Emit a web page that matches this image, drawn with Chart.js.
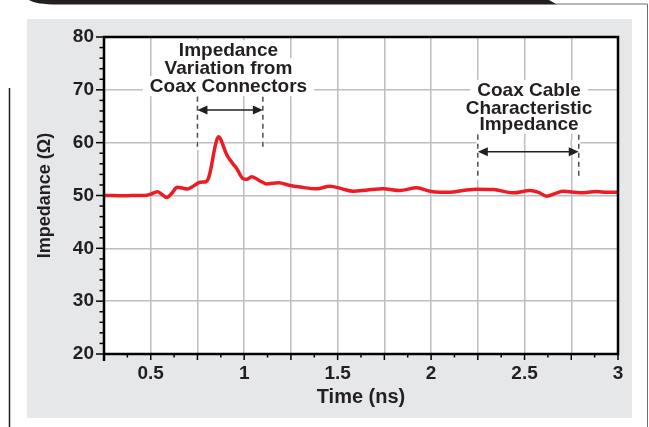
<!DOCTYPE html>
<html>
<head>
<meta charset="utf-8">
<script src="https://cdn.jsdelivr.net/npm/chart.js@4.4.1/dist/chart.umd.min.js"></script>
<style>
  html, body { margin: 0; padding: 0; background: #fff; }
  #wrap { position: relative; width: 649px; height: 427px; overflow: hidden; }
  #panel { position: absolute; left: 27px; top: 19px; width: 605px; height: 399px; background: #e6e7e8; }
  #deco { position: absolute; left: 0; top: 0; }
  #c { position: absolute; left: 0; top: 0; }
</style>
</head>
<body>
<div id="wrap">
  <div id="panel"></div>
  <svg id="deco" width="649" height="427">
    <path d="M29,0 L549,0 L557,4.5 L58,4.5 Q36,4.5 29,0 Z" fill="#231f20"/>
    <polyline points="556,4 647.5,4 647.5,427" fill="none" stroke="#6d6e71" stroke-width="1"/>
    <line x1="9.5" y1="88" x2="9.5" y2="427" stroke="#231f20" stroke-width="1.5"/>
  </svg>
  <canvas id="c" width="649" height="427"></canvas>
</div>
<script>
// TDR trace: time (ns) and measured impedance (ohms)
const timeNs = [0.25, 0.30, 0.35, 0.40, 0.45, 0.48, 0.50, 0.535, 0.56, 0.585,
  0.612, 0.642, 0.67, 0.696, 0.725, 0.755, 0.78, 0.796, 0.808, 0.822,
  0.845, 0.862, 0.876, 0.892, 0.906, 0.925, 0.942, 0.96, 0.992, 1.013,
  1.04, 1.085, 1.12, 1.183, 1.245, 1.30, 1.388, 1.459, 1.52, 1.584,
  1.66, 1.744, 1.834, 1.923, 1.994, 2.048, 2.101, 2.17, 2.244, 2.333,
  2.44, 2.529, 2.575, 2.619, 2.665, 2.707, 2.797, 2.886, 2.94, 3.0];
const impedanceOhm = [50.0, 50.0, 49.95, 50.0, 50.0, 50.05, 50.25, 50.7, 50.2, 49.6,
  50.4, 51.55, 51.4, 51.25, 51.7, 52.4, 52.55, 52.6, 53.2, 55.1,
  59.4, 61.1, 60.5, 59.0, 57.75, 56.7, 55.9, 55.1, 53.25, 53.06,
  53.56, 52.75, 52.2, 52.4, 51.9, 51.6, 51.26, 51.76, 51.3, 50.8,
  51.05, 51.26, 50.95, 51.45, 50.8, 50.63, 50.63, 50.95, 51.2, 51.13,
  50.5, 50.95, 50.6, 49.87, 50.4, 50.8, 50.5, 50.75, 50.6, 50.6];

// axis ticks
const gridTimes = [0.25, 0.5, 0.75, 1, 1.25, 1.5, 1.75, 2, 2.25, 2.5, 2.75, 3];
const xTickLabels = [0.5, 1, 1.5, 2, 2.5, 3];
const yTickValues = [20, 30, 40, 50, 60, 70, 80];

// callout texts
const noteConnectors = ['Impedance', 'Variation from', 'Coax Connectors'];
const noteCable = ['Coax Cable', 'Characteristic', 'Impedance'];

const INK = '#231f20';
const FAMILY = '"Liberation Sans", Arial, Helvetica, sans-serif';
const TICK_FONT = { family: FAMILY, size: 19, weight: 'bold' };
const XTITLE_FONT = { family: FAMILY, size: 20, weight: 'bold' };
const YTITLE_FONT = { family: FAMILY, size: 18, weight: 'bold' };
const NOTE_FONT = 'bold 19px ' + FAMILY;
const GRID = '#bcbec0';

// callouts placed in data units (ns, ohms)
const callouts = [
  { lines: noteConnectors, cx: 0.916, rows: [77.5, 74.1, 70.7],
    from: 0.75, to: 1.1, arrowAt: 66.2, dashTop: 68.7, dashBottom: 58.6, maskRow: null },
  { lines: noteCable, cx: 2.524, rows: [70.0, 66.7, 63.6],
    from: 2.25, to: 2.79, arrowAt: 58.3, dashTop: 61.5, dashBottom: 53.0, maskRow: 60 }
];

function seg(ctx, x1, y1, x2, y2) {
  ctx.beginPath(); ctx.moveTo(x1, y1); ctx.lineTo(x2, y2); ctx.stroke();
}

function head(ctx, tipX, y, dir) {
  const L = 10, H = 4.5;
  ctx.beginPath();
  ctx.moveTo(tipX, y);
  ctx.lineTo(tipX + dir * L, y - H);
  ctx.lineTo(tipX + dir * L, y + H);
  ctx.closePath();
  ctx.fill();
}

const decor = {
  id: 'decor',
  beforeDraw(chart) {
    const { ctx, chartArea: a } = chart;
    ctx.save();
    ctx.fillStyle = '#fff';
    ctx.fillRect(a.left, a.top, a.right - a.left, a.bottom - a.top);
    ctx.restore();
  },
  beforeDatasetsDraw(chart) {
    const { ctx } = chart;
    const xs = chart.scales.x, ys = chart.scales.y;
    ctx.save();
    ctx.font = NOTE_FONT;
    callouts.forEach(n => {
      const cx = xs.getPixelForValue(n.cx);
      // text with white backing
      n.lines.forEach((txt, i) => {
        const cy = ys.getPixelForValue(n.rows[i]);
        const w = ctx.measureText(txt).width;
        ctx.fillStyle = '#fff';
        ctx.fillRect(cx - w / 2 - 7, cy - 10, w + 14, 20);
      });
      ctx.fillStyle = INK;
      ctx.textAlign = 'center';
      ctx.textBaseline = 'middle';
      n.lines.forEach((txt, i) => {
        ctx.fillText(txt, cx, ys.getPixelForValue(n.rows[i]) + 1);
      });
      const x1 = xs.getPixelForValue(n.from), x2 = xs.getPixelForValue(n.to);
      const yt = ys.getPixelForValue(n.dashTop), yb = ys.getPixelForValue(n.dashBottom);
      const ya = ys.getPixelForValue(n.arrowAt);
      if (n.maskRow !== null) {
        const ym = ys.getPixelForValue(n.maskRow);
        ctx.fillStyle = '#fff';
        ctx.fillRect(x1, ym - 2.5, x2 - x1, 5);
        ctx.strokeStyle = GRID; ctx.lineWidth = 1.5;
        gridTimes.filter(t => t > n.from && t < n.to).forEach(t => {
          const px = xs.getPixelForValue(t);
          seg(ctx, px, ym - 3, px, ym + 3);
        });
      }
      // dashed extension lines
      ctx.strokeStyle = '#fff'; ctx.lineWidth = 3;
      seg(ctx, x1, yt, x1, yb); seg(ctx, x2, yt, x2, yb);
      ctx.strokeStyle = '#4d4d4f'; ctx.lineWidth = 1.5; ctx.setLineDash([5, 4]);
      seg(ctx, x1, yt, x1, yb); seg(ctx, x2, yt, x2, yb);
      ctx.setLineDash([]);
      // double-headed arrow
      ctx.strokeStyle = INK; ctx.fillStyle = INK; ctx.lineWidth = 1.5;
      seg(ctx, x1 + 4, ya, x2 - 4, ya);
      head(ctx, x1, ya, 1);
      head(ctx, x2, ya, -1);
    });
    ctx.restore();
  },
  afterDraw(chart) {
    const { ctx, chartArea: a } = chart;
    const xs = chart.scales.x, ys = chart.scales.y;
    ctx.save();
    ctx.strokeStyle = '#000';
    ctx.lineWidth = 1.5;
    for (let v = 20; v <= 80; v += 2) {
      const py = ys.getPixelForValue(v);
      const len = v % 10 === 0 ? 8 : 4.5;
      seg(ctx, a.left - len, py, a.left, py);
    }
    for (let k = 0; k <= 22; k++) {
      const px = xs.getPixelForValue(0.25 + k * 0.125);
      const len = k % 2 === 0 ? 6 : 3.5;
      seg(ctx, px, a.bottom, px, a.bottom + len);
    }
    ctx.lineWidth = 2.5;
    ctx.strokeRect(a.left, a.top, a.right - a.left, a.bottom - a.top);
    seg(ctx, a.left, a.bottom, a.left, a.bottom + 7);
    ctx.restore();
  }
};

new Chart(document.getElementById('c'), {
  type: 'line',
  data: {
    datasets: [{
      data: timeNs.map((t, i) => ({ x: t, y: impedanceOhm[i] })),
      borderColor: '#ed1c24',
      borderWidth: 3.5,
      pointRadius: 0,
      fill: false,
      cubicInterpolationMode: 'monotone'
    }]
  },
  options: {
    responsive: false,
    animation: false,
    devicePixelRatio: 1,
    layout: { padding: { top: 37, right: 31, left: 0, bottom: 0 } },
    plugins: { legend: { display: false }, tooltip: { enabled: false } },
    scales: {
      x: {
        type: 'linear', min: 0.25, max: 3,
        afterBuildTicks(s) { s.ticks = gridTimes.map(v => ({ value: v })); },
        afterFit(s) { s.height = 73; },
        ticks: {
          autoSkip: false, maxRotation: 0, padding: 8, color: INK, font: TICK_FONT,
          callback: v => xTickLabels.some(l => Math.abs(l - v) < 1e-9) ? String(v) : ''
        },
        grid: { color: GRID, lineWidth: 1.5, drawTicks: false },
        border: { display: false },
        title: { display: true, text: 'Time (ns)', color: INK, font: XTITLE_FONT, padding: { top: 0, bottom: 18 } }
      },
      y: {
        min: 20, max: 80,
        afterBuildTicks(s) { s.ticks = yTickValues.map(v => ({ value: v })); },
        afterFit(s) { s.width = 104; },
        ticks: { padding: 10, color: INK, font: TICK_FONT },
        grid: { color: GRID, lineWidth: 1.5, drawTicks: false },
        border: { display: false },
        title: { display: true, text: 'Impedance (Ω)', color: INK, font: YTITLE_FONT, padding: { top: 34, bottom: 0 } }
      }
    }
  },
  plugins: [decor]
});
</script>
</body>
</html>
